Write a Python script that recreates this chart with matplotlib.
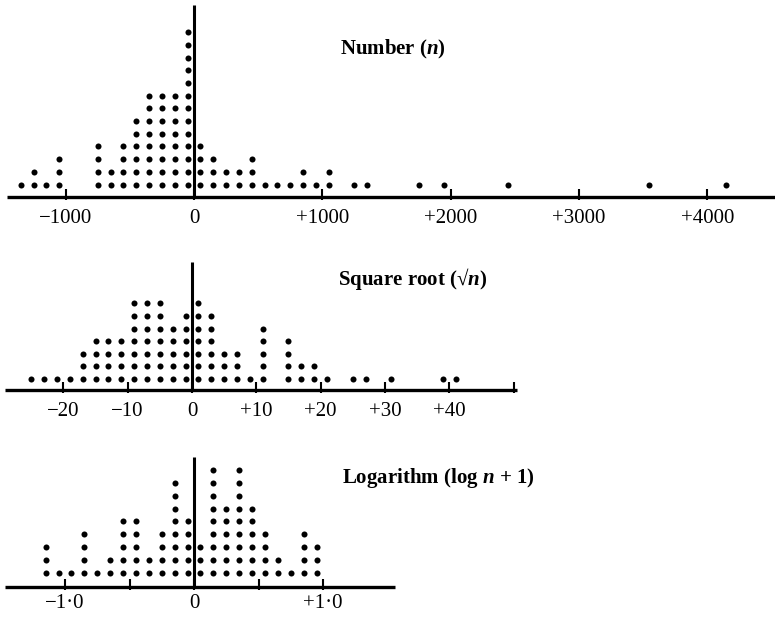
import numpy as np
import matplotlib.pyplot as plt

plt.rcParams['font.family'] = ['Liberation Serif', 'DejaVu Serif']
plt.rcParams['mathtext.fontset'] = 'custom'
plt.rcParams['mathtext.rm'] = 'Liberation Serif:bold'
plt.rcParams['mathtext.it'] = 'Liberation Serif:italic:bold'

# bin centres and number of dots in each column
number_bins = [-1350, -1250, -1150, -1050, -750, -650, -550, -450, -350, -250, -150, -50,
               50, 150, 250, 350, 450, 550, 650, 750, 850, 950, 1050, 1250, 1350,
               1750, 1950, 2450, 3550, 4150]
number_counts = [1, 2, 1, 3, 4, 2, 4, 6, 8, 8, 8, 13,
                 4, 3, 2, 2, 3, 1, 1, 1, 2, 1, 2, 1, 1,
                 1, 1, 1, 1, 1]

sqrt_bins = [-25, -23, -21, -19, -17, -15, -13, -11, -9, -7, -5, -3, -1,
             1, 3, 5, 7, 9, 11, 15, 17, 19, 21, 25, 27, 31, 39, 41]
sqrt_counts = [1, 1, 1, 1, 3, 4, 4, 4, 7, 7, 7, 5, 6,
               7, 6, 3, 3, 1, 5, 4, 2, 2, 1, 1, 1, 1, 1, 1]

log_bins = [-1.15, -1.05, -0.95, -0.85, -0.75, -0.65, -0.55, -0.45, -0.35, -0.25, -0.15, -0.05,
            0.05, 0.15, 0.25, 0.35, 0.45, 0.55, 0.65, 0.75, 0.85, 0.95]
log_counts = [3, 1, 1, 4, 1, 2, 5, 5, 2, 4, 8, 5,
              3, 9, 6, 9, 6, 4, 2, 1, 4, 3]

number_ticks = [-1000, 0, 1000, 2000, 3000, 4000]
number_tick_labels = ['\u22121000', '0', '+1000', '+2000', '+3000', '+4000']
sqrt_ticks = [-20, -10, 0, 10, 20, 30, 40, 50]
sqrt_tick_labels = ['\u221220', '\u221210', '0', '+10', '+20', '+30', '+40', '']
log_ticks = [-1.0, -0.5, 0.0, 0.5, 1.0]
log_tick_labels = ['\u22121\u00b70', '', '0', '', '+1\u00b70']

W, H = 775, 618
fig = plt.figure(figsize=(W / 100, H / 100), dpi=100)


def draw_panel(bins, counts, ticks, labels, title, zero_px, px_per_unit, axis_px,
               first_dot_px, spacing, box, line_px, top_px, label_px, title_px):
    top, bottom = box
    ax = fig.add_axes([0, 1 - bottom / H, 1, (bottom - top) / H])
    ax.set_xlim(-zero_px / px_per_unit, (W - zero_px) / px_per_unit)
    ax.set_ylim((axis_px - bottom) / spacing, (axis_px - top) / spacing)
    ax.axis('off')

    xd = lambda px: (px - zero_px) / px_per_unit
    yd = lambda py: (axis_px - py) / spacing

    lift = yd(first_dot_px)
    for b, c in zip(bins, counts):
        ax.scatter([b] * c, lift + np.arange(c), s=19, color='black', lw=0, zorder=3)

    ax.plot([xd(line_px[0]), xd(line_px[1])], [0, 0], color='black', lw=2.4,
            solid_capstyle='butt')
    ax.plot([0, 0], [0, yd(top_px)], color='black', lw=2.2, solid_capstyle='butt')
    ax.vlines(ticks, yd(axis_px + 3), yd(axis_px - 8), color='black', lw=1.5)
    for t, lab in zip(ticks, labels):
        ax.text(t, yd(label_px), lab, ha='center', va='center', fontsize=15)
    ax.text(xd(title_px[0]), yd(title_px[1]), title, ha='left', va='center',
            fontsize=15, fontweight='bold')
    return ax


draw_panel(number_bins, number_counts, number_ticks, number_tick_labels, 'Number ($n$)',
           zero_px=194, px_per_unit=0.1283, axis_px=197, first_dot_px=184.5, spacing=12.7,
           box=(0, 240), line_px=(7, 775), top_px=5, label_px=218, title_px=(340, 49))

draw_panel(sqrt_bins, sqrt_counts, sqrt_ticks, sqrt_tick_labels, 'Square root (\u221a$n$)',
           zero_px=192, px_per_unit=6.43, axis_px=390, first_dot_px=379, spacing=12.6,
           box=(240, 430), line_px=(5, 517), top_px=262, label_px=412, title_px=(338, 279))

draw_panel(log_bins, log_counts, log_ticks, log_tick_labels, 'Logarithm (log $n$ + 1)',
           zero_px=194, px_per_unit=129, axis_px=587, first_dot_px=573, spacing=12.9,
           box=(430, 618), line_px=(5, 395), top_px=457, label_px=603, title_px=(342, 478))

plt.savefig('out.png', dpi=100)
